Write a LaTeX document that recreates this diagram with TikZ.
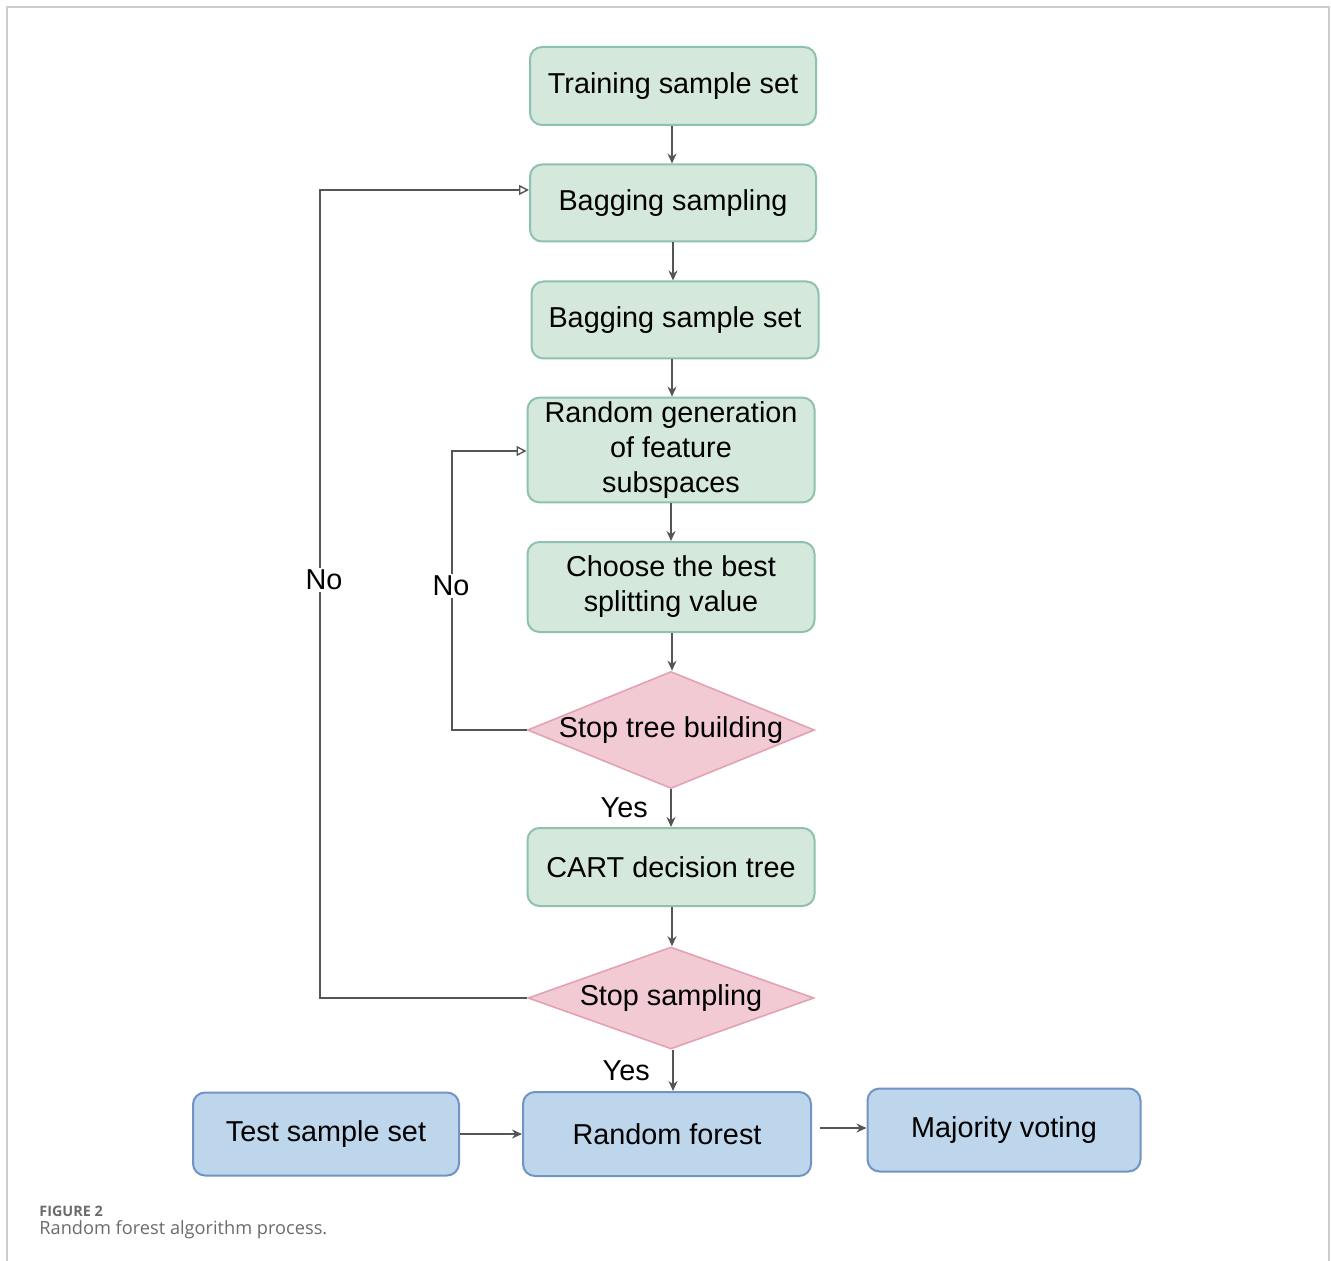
\documentclass[tikz,border=0pt]{standalone}
\usepackage{fontspec}
\setmainfont{Liberation Sans}
\newfontfamily\capfont{Open Sans}
\usetikzlibrary{shapes.geometric,arrows.meta,calc}
\definecolor{gfill}{HTML}{D5E8DC}
\definecolor{gdraw}{HTML}{8DC2AE}
\definecolor{pfill}{HTML}{F2CAD4}
\definecolor{pdraw}{HTML}{E3A2B3}
\definecolor{bfill}{HTML}{BDD6EC}
\definecolor{bdraw}{HTML}{7194C4}
\definecolor{lnc}{HTML}{555555}
\definecolor{frm}{HTML}{CCCCCC}
\definecolor{capc}{HTML}{6B6B6B}
\tikzset{
  gbox/.style={draw=gdraw, fill=gfill, line width=1pt, rounded corners=6pt, align=center, font=\fontsize{14.4}{17.5}\selectfont, inner sep=2pt},
  bbox/.style={draw=bdraw, fill=bfill, line width=1pt, rounded corners=6pt, align=center, font=\fontsize{14.4}{17.5}\selectfont, inner sep=2pt},
  dbox/.style={diamond, draw=pdraw, fill=pfill, line width=0.8pt, inner sep=0pt},
  arr/.style={draw=lnc, line width=0.7pt, -{Stealth[length=5pt,width=4.5pt]}},
  oarr/.style={draw=lnc, line width=0.7pt, -{Triangle[open,length=5pt,width=5pt]}},
  lbl/.style={font=\fontsize{14.4}{17}\selectfont, fill=white, inner sep=1pt},
}
\begin{document}
\begin{tikzpicture}[x=0.5pt,y=-0.5pt]
\useasboundingbox (0,0) rectangle (1331,1261);
% frame
\draw[frm, line width=0.9pt] (7,1261) -- (7,7) -- (1329,7) -- (1329,1261);
% nodes
\node[gbox, minimum width=143pt, minimum height=39pt] (train) at (673,86) {Training sample set};
\node[gbox, minimum width=143pt, minimum height=38.5pt] (bagS) at (673,203) {Bagging sampling};
\node[gbox, minimum width=143.5pt, minimum height=38.5pt] (bagSet) at (675,320) {Bagging sample set};
\node[gbox, minimum width=143.5pt, minimum height=51.5pt] (rand) at (671,450) {Random generation\\of feature\\subspaces};
\node[gbox, minimum width=143.5pt, minimum height=45pt] (choose) at (671,587) {Choose the best\\splitting value};
\node[dbox, minimum width=143.5pt, minimum height=58.5pt, label={[font=\fontsize{14.4}{17}\selectfont]center:Stop tree building}] (stopT) at (671,730) {};
\node[gbox, minimum width=143.5pt, minimum height=39pt] (cart) at (671,867) {CART decision tree};
\node[dbox, minimum width=143pt, minimum height=51pt, label={[font=\fontsize{14.4}{17}\selectfont]center:Stop sampling}] (stopS) at (671,998) {};
\node[bbox, minimum width=133pt, minimum height=41.5pt] (test) at (326,1134) {Test sample set};
\node[bbox, minimum width=144pt, minimum height=42pt] (rf) at (667,1134) {Random forest};
\node[bbox, minimum width=136.5pt, minimum height=41.5pt] (maj) at (1004,1130) {Majority voting};
% connectors
\draw[arr] (train.south -| 672,0) -- (bagS.north -| 672,0);
\draw[arr] (bagS.south) -- (bagSet.north -| 673,0);
\draw[arr] (bagSet.south -| 672,0) -- (rand.north -| 672,0);
\draw[arr] (rand.south -| 671,0) -- (choose.north -| 671,0);
\draw[arr] (choose.south -| 672,0) -- (stopT.north -| 672,0);
\draw[arr] (stopT.south -| 671,0) -- node[left, font=\fontsize{14.4}{17}\selectfont, xshift=-8pt] {Yes} (cart.north -| 671,0);
\draw[arr] (cart.south -| 672,0) -- (stopS.north -| 672,0);
\draw[arr] (stopS.south -| 673,0) -- node[left, font=\fontsize{14.4}{17}\selectfont, xshift=-8pt] {Yes} (rf.north -| 673,0);
\draw[arr] (test.east) -- (rf.west);
\draw[arr] ([xshift=4pt]rf.east |- 0,1128) -- (maj.west |- 0,1128);
% loops
\coordinate (c1) at (452,730);
\draw[oarr] (stopT.west) -- (c1) -- (452,451) -- (rand.west |- 0,451);
\node[lbl] (no1) at (451,586) {No};
\coordinate (c2) at (320,998);
\draw[oarr] (stopS.west) -- (c2) -- (320,190) -- (bagS.west |- 0,190);
\node[lbl] (no2) at (324,580) {No};
% caption
\node[anchor=west, text=capc, inner sep=0pt, font=\capfont\fontsize{7.2}{9}\selectfont\bfseries] (fig) at (39,1211) {FIGURE 2};
\node[anchor=west, text=capc, inner sep=0pt, font=\capfont\fontsize{9.1}{11}\selectfont] (cap) at (39,1230) {Random forest algorithm process.};
\end{tikzpicture}
\end{document}
